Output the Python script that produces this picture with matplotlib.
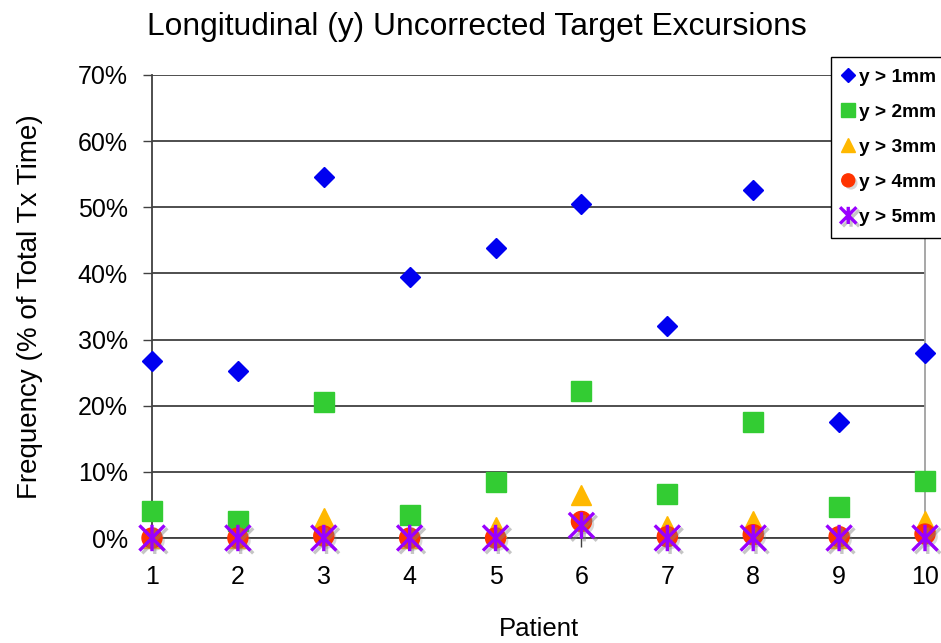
import numpy as np
import matplotlib
matplotlib.use('Agg')
import matplotlib.pyplot as plt
import matplotlib.patheffects as pe
from matplotlib.path import Path

# data (% of total treatment time)
patients = [1, 2, 3, 4, 5, 6, 7, 8, 9, 10]
y_gt_1mm = [26.7, 25.2, 54.6, 39.4, 43.8, 50.5, 32.0, 52.6, 17.6, 28.0]
y_gt_2mm = [4.1, 2.6, 20.5, 3.5, 8.4, 22.2, 6.6, 17.5, 4.7, 8.6]
y_gt_3mm = [0.0, 0.0, 3.0, 0.0, 1.6, 6.5, 1.8, 2.6, 0.0, 2.5]
y_gt_4mm = [0.0, 0.0, 0.3, 0.0, 0.0, 2.5, 0.2, 0.5, 0.2, 0.6]
y_gt_5mm = [0.0, 0.0, 0.0, 0.0, 0.0, 1.9, 0.0, 0.0, 0.0, 0.0]
series_labels = ['y > 1mm', 'y > 2mm', 'y > 3mm', 'y > 4mm', 'y > 5mm']
y_ticks = [0, 10, 20, 30, 40, 50, 60, 70]

# font
plt.rcParams['font.family'] = ['Liberation Sans', 'DejaVu Sans']
plt.rcParams['font.size'] = 18

W, H = 941, 643
fig = plt.figure(figsize=(W / 100, H / 100), dpi=100)
ax = fig.add_axes([152 / W, 1 - 538 / H, (925 - 152) / W, (538 - 75) / H])

# excel style star marker (X with vertical bar)
star = Path([(-1, -1), (1, 1), (-1, 1), (1, -1), (0, -1.05), (0, 1.05)],
            [Path.MOVETO, Path.LINETO, Path.MOVETO, Path.LINETO, Path.MOVETO, Path.LINETO])

shadow = [pe.SimplePatchShadow(offset=(2, -2), shadow_rgbFace='gray', alpha=0.3), pe.Normal()]
line_shadow = [pe.SimpleLineShadow(offset=(2, -2), shadow_color='gray', alpha=0.45), pe.Normal()]

ax.plot(patients, y_gt_1mm, linestyle='none', marker='D', ms=10.2, color='#0000F0',
        mec='#0000F0', label=series_labels[0], clip_on=False, zorder=3)
ax.plot(patients, y_gt_2mm, linestyle='none', marker='s', ms=14.6, color='#33CC33',
        mec='#33CC33', label=series_labels[1], clip_on=False, zorder=4)
ax.plot(patients, y_gt_3mm, linestyle='none', marker='^', ms=14.4, color='#FFB800',
        mec='#FFB800', label=series_labels[2], clip_on=False, zorder=5)
ax.plot(patients, y_gt_4mm, linestyle='none', marker='o', ms=14.4, color='#FF3300',
        mec='#FF3300', label=series_labels[3], clip_on=False, zorder=6, path_effects=shadow)
ax.plot(patients, y_gt_5mm, linestyle='none', marker=star, ms=19, mfc='none', mec='#9900FF',
        mew=2.4, label=series_labels[4], clip_on=False, zorder=7, path_effects=line_shadow)

# axes range
ax.set_xlim(1, 10)
ax.set_ylim(0, 70)
ax.set_xticks(patients)
ax.set_yticks(y_ticks)
ax.set_yticklabels([str(v) + '%' for v in y_ticks])

# grid and frame
ax.grid(axis='y', color='#404040', linewidth=1.3)
ax.grid(axis='x', visible=False)
ax.set_axisbelow(True)
ax.spines['top'].set_visible(False)
ax.spines['right'].set_color('#A0A0A0')
ax.spines['right'].set_linewidth(1.3)
ax.spines['left'].set_color('#404040')
ax.spines['left'].set_linewidth(1.3)
ax.spines['bottom'].set_color('#404040')
ax.spines['bottom'].set_linewidth(1.3)
ax.tick_params(axis='y', direction='out', length=6.5, width=1, color='#404040', pad=11)
ax.tick_params(axis='x', direction='out', length=6.5, width=1, color='#404040', pad=13)

# labels
ax.set_xlabel('Patient', fontsize=18.5, labelpad=20)
ax.set_ylabel('Frequency (% of Total Tx Time)', fontsize=20, labelpad=25)
fig.text(477 / W, 1 - 34.5 / H, 'Longitudinal (y) Uncorrected Target Excursions',
         fontsize=22.9, ha='center', va='baseline')

# legend
leg = ax.legend(loc='upper left', bbox_to_anchor=(831 / W, 1 - 57 / H), bbox_transform=fig.transFigure,
                prop={'size': 13.8, 'weight': 'bold'}, markerscale=0.65, frameon=True, fancybox=False,
                framealpha=1, edgecolor='black', handlelength=0.6, handletextpad=0.25, borderpad=0.6,
                labelspacing=0.92, borderaxespad=0)
leg.get_frame().set_linewidth(1.0)
leg.set_zorder(10)

plt.savefig('out.png', dpi=100)
